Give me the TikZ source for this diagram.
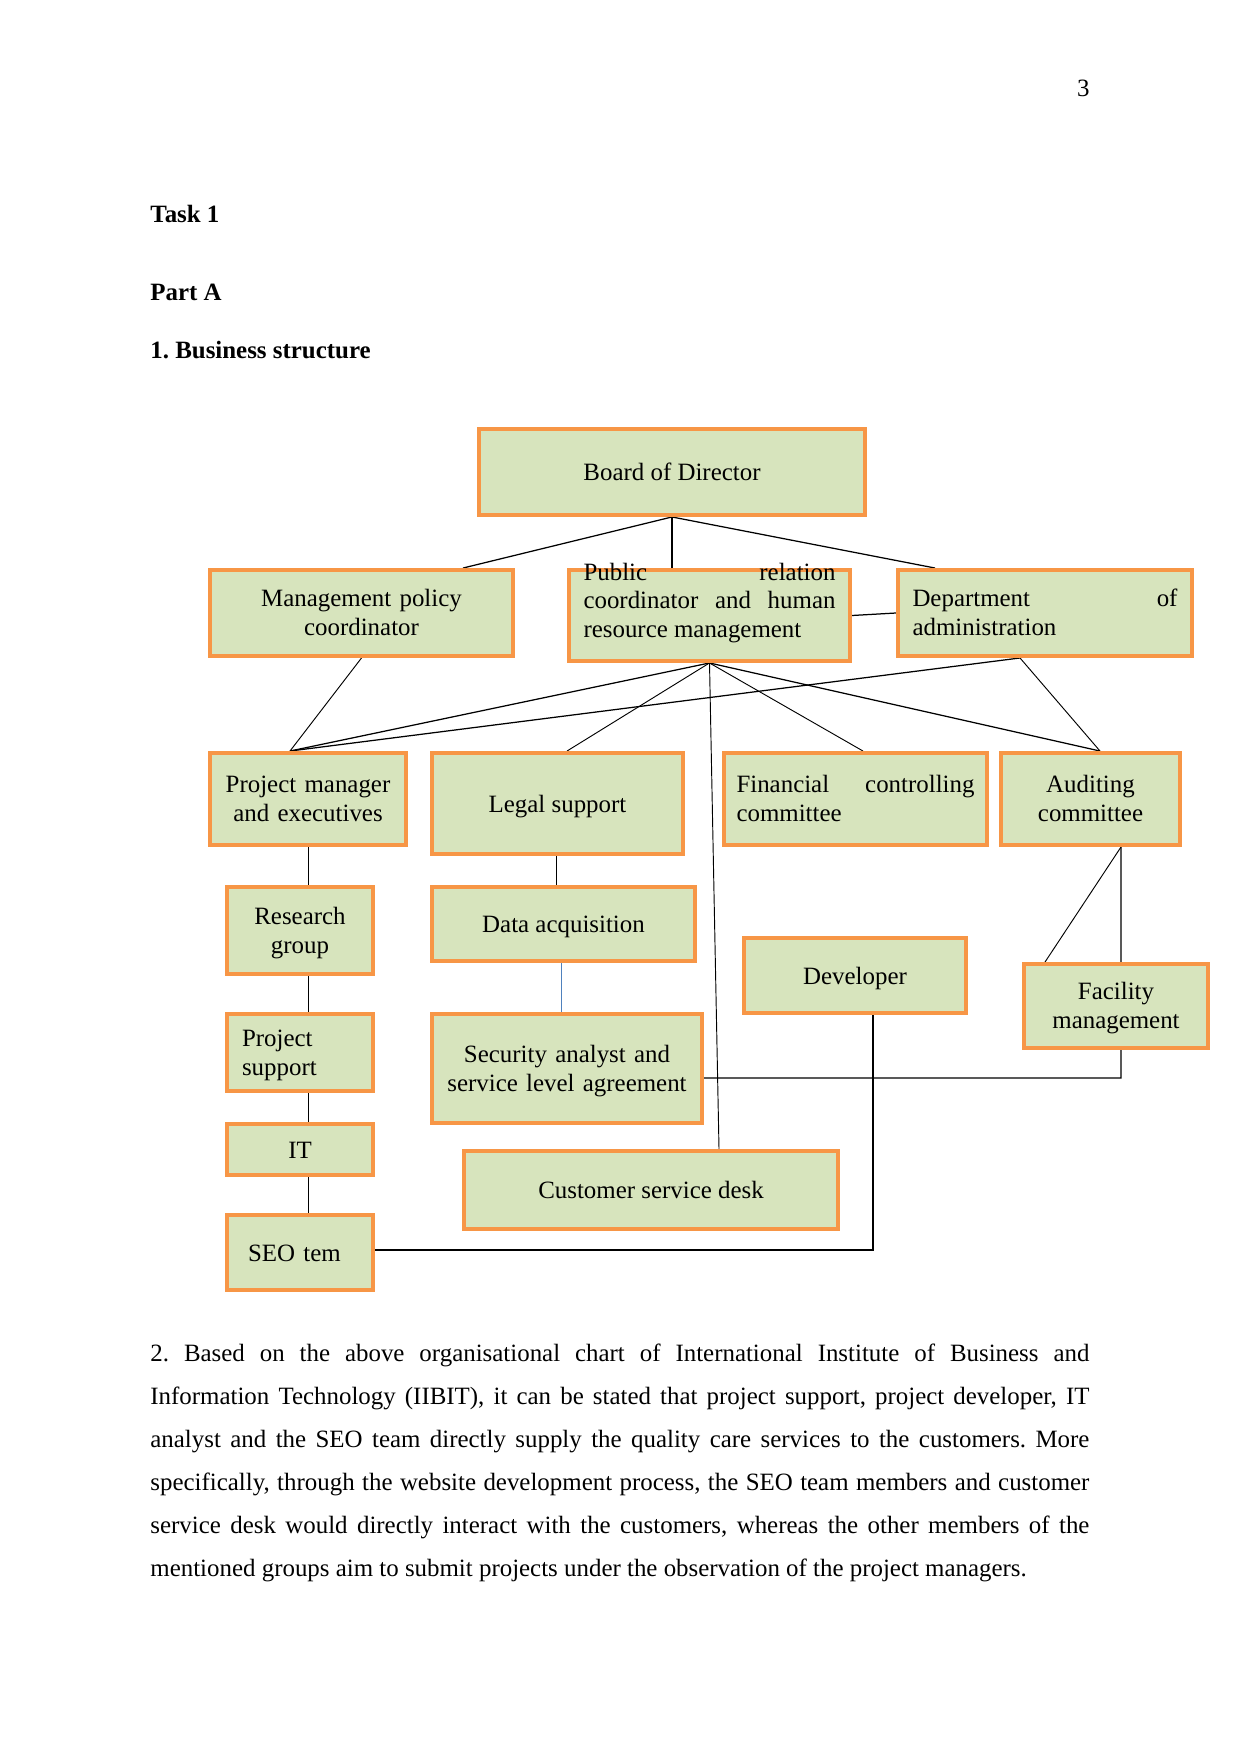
\documentclass[tikz,border=0pt]{standalone}
\usepackage{fontspec}
\setmainfont{Liberation Serif}
\usetikzlibrary{backgrounds}
\frenchspacing
\newdimen\pxu
\pxu=0.4818pt
\newcommand\boxfont{\fontsize{12}{13.8}\selectfont}
\newcommand\bodyfont{\fontsize{12}{20.8}\selectfont}
\definecolor{boxfill}{RGB}{215,228,189}
\definecolor{boxline}{RGB}{247,150,70}
\definecolor{linkblue}{RGB}{79,129,189}
\begin{document}
\begin{tikzpicture}[x=0.4818pt, y=-0.4818pt,
  box/.style={draw=boxline, fill=boxfill, line width=1.9pt, inner sep=0pt, font=\boxfont},
  one/.style={text height=8.2pt, text depth=0pt},
  two/.style={text height=8.2pt, text depth=14pt},
  link/.style={line width=0.6pt, draw=black},
  thinlink/.style={line width=0.45pt, draw=black},
  txt/.style={inner sep=0pt, font=\boxfont\frenchspacing}]
\useasboundingbox (0,0) rectangle (1241,1754);

% page text
\node[txt, anchor=base east] (pnum) at (1090,97) {3};
\node[txt, anchor=base west, font=\boxfont\bfseries] (task) at (150,223) {Task 1};
\node[txt, anchor=base west, font=\boxfont\bfseries] (parta) at (150,301) {Part A};
\node[txt, anchor=base west, font=\boxfont\bfseries] (bs) at (150,358) {1. Business structure};

% boxes
\node[box, one, minimum width=386*\pxu, minimum height=86*\pxu] (board) at (672,472) {Board of Director};
\node[box, two, text width=290*\pxu, align=center, minimum width=303*\pxu, minimum height=86*\pxu] (mgmt) at (361.5,613) {Management policy\\coordinator};
\node[box, text height=4.5pt, text depth=38.7pt, text width=252*\pxu, align=justify, minimum width=281*\pxu, minimum height=91*\pxu] (pr) at (709.5,615.5) {Public relation\linebreak coordinator and human\linebreak resource management};
\node[box, two, text width=265*\pxu, align=justify, minimum width=294*\pxu, minimum height=86*\pxu] (dept) at (1045,613) {Department of\linebreak administration};
\node[box, two, text width=190*\pxu, align=center, minimum width=196*\pxu, minimum height=92*\pxu] (pm) at (308,799) {Project manager\\and executives};
\node[box, one, minimum width=251*\pxu, minimum height=101*\pxu] (legal) at (557.5,803.5) {Legal support};
\node[box, two, text width=238*\pxu, align=justify, minimum width=263*\pxu, minimum height=92*\pxu] (fin) at (855.5,799) {Financial controlling\linebreak committee};
\node[box, two, text width=170*\pxu, align=center, minimum width=179*\pxu, minimum height=92*\pxu] (aud) at (1090.5,799) {Auditing\\committee};
\node[box, two, text width=140*\pxu, align=center, minimum width=146*\pxu, minimum height=87*\pxu] (research) at (300,930.5) {Research\\group};
\node[box, one, minimum width=263*\pxu, minimum height=74*\pxu] (data) at (563.5,924) {Data acquisition};
\node[box, one, minimum width=222*\pxu, minimum height=75*\pxu] (dev) at (855,975.5) {Developer};
\node[box, two, text width=176*\pxu, align=center, minimum width=184*\pxu, minimum height=84*\pxu] (facility) at (1116,1006) {Facility\\management};
\node[box, two, text width=116*\pxu, align=left, minimum width=146*\pxu, minimum height=77*\pxu] (psupport) at (300,1052.5) {Project\\support};
\node[box, two, text width=262*\pxu, align=center, minimum width=270*\pxu, minimum height=109*\pxu] (sec) at (567,1068.5) {Security analyst and\\service level agreement};
\node[box, one, minimum width=146*\pxu, minimum height=51*\pxu] (it) at (300,1149.5) {IT};
\node[box, one, minimum width=374*\pxu, minimum height=78*\pxu] (csd) at (651,1190) {Customer service desk};
\node[box, one, text width=104*\pxu, align=left, minimum width=146*\pxu, minimum height=75*\pxu] (seo) at (300,1252.5) {SEO tem};

% paragraph
\node[txt, anchor=base west, text width=939*\pxu, align=justify, font=\bodyfont\frenchspacing] (para) at (150,1361) {2. Based on the above organisational chart of International Institute of Business and\linebreak Information Technology (IIBIT), it can be stated that project support, project developer, IT\linebreak analyst and the SEO team directly supply the quality care services to the customers. More\linebreak specifically, through the website development process, the SEO team members and customer\linebreak service desk would directly interact with the customers, whereas the other members of the\linebreak mentioned groups aim to submit projects under the observation of the project managers.};

% connectors
\begin{scope}[on background layer]
\fill[white] (0,0) rectangle (1241,1754);
\draw[link] (board.south) -- ([xshift=101.5*\pxu]mgmt.north);
\draw[link] (board.south) -- (board.south |- pr.north);
\draw[link] (board.south) -- ([xshift=-110*\pxu]dept.north);
\draw[link] (pr.east) -- (dept.west);
\draw[thinlink] (mgmt.south) -- ([xshift=-18*\pxu]pm.north);
\draw[link] (pr.south) -- ([xshift=-18*\pxu]pm.north);
\draw[link] ([xshift=-25*\pxu]dept.south) -- ([xshift=-18*\pxu]pm.north);
\draw[thinlink] (pr.south) -- ([xshift=9.5*\pxu]legal.north);
\draw[thinlink] (pr.south) -- ([xshift=7.5*\pxu]fin.north);
\draw[link] (pr.south) -- ([xshift=9.5*\pxu]aud.north);
\draw[thinlink] ([xshift=-25*\pxu]dept.south) -- ([xshift=9.5*\pxu]aud.north);
\draw[thinlink] (pr.south) -- ([xshift=68*\pxu]csd.north);
\draw[thinlink] (pm.south) -- (pm.south |- research.north);
\draw[thinlink] ([xshift=8*\pxu]research.south) -- ([xshift=8*\pxu]psupport.north);
\draw[thinlink] ([xshift=8*\pxu]psupport.south) -- ([xshift=8*\pxu]it.north);
\draw[thinlink] ([xshift=8*\pxu]it.south) -- ([xshift=8*\pxu]seo.north);
\draw[thinlink] ([xshift=-1*\pxu]legal.south) -- ([xshift=-1*\pxu]legal.south |- data.north);
\draw[linkblue, line width=0.45pt] ([xshift=-2.5*\pxu]data.south) -- ([xshift=-2.5*\pxu]data.south |- sec.north);
\draw[thinlink] ([xshift=30.5*\pxu]aud.south) -- ([xshift=-71*\pxu]facility.north);
\coordinate (audcorner) at (1121,1078);
\draw[link] ([xshift=30.5*\pxu]aud.south) -- (audcorner) -- (sec.east |- audcorner);
\coordinate (devcorner) at (873,1250);
\draw[link] ([xshift=18*\pxu]dev.south) -- (devcorner) -- (seo.east |- devcorner);
\end{scope}
\end{tikzpicture}
\end{document}
